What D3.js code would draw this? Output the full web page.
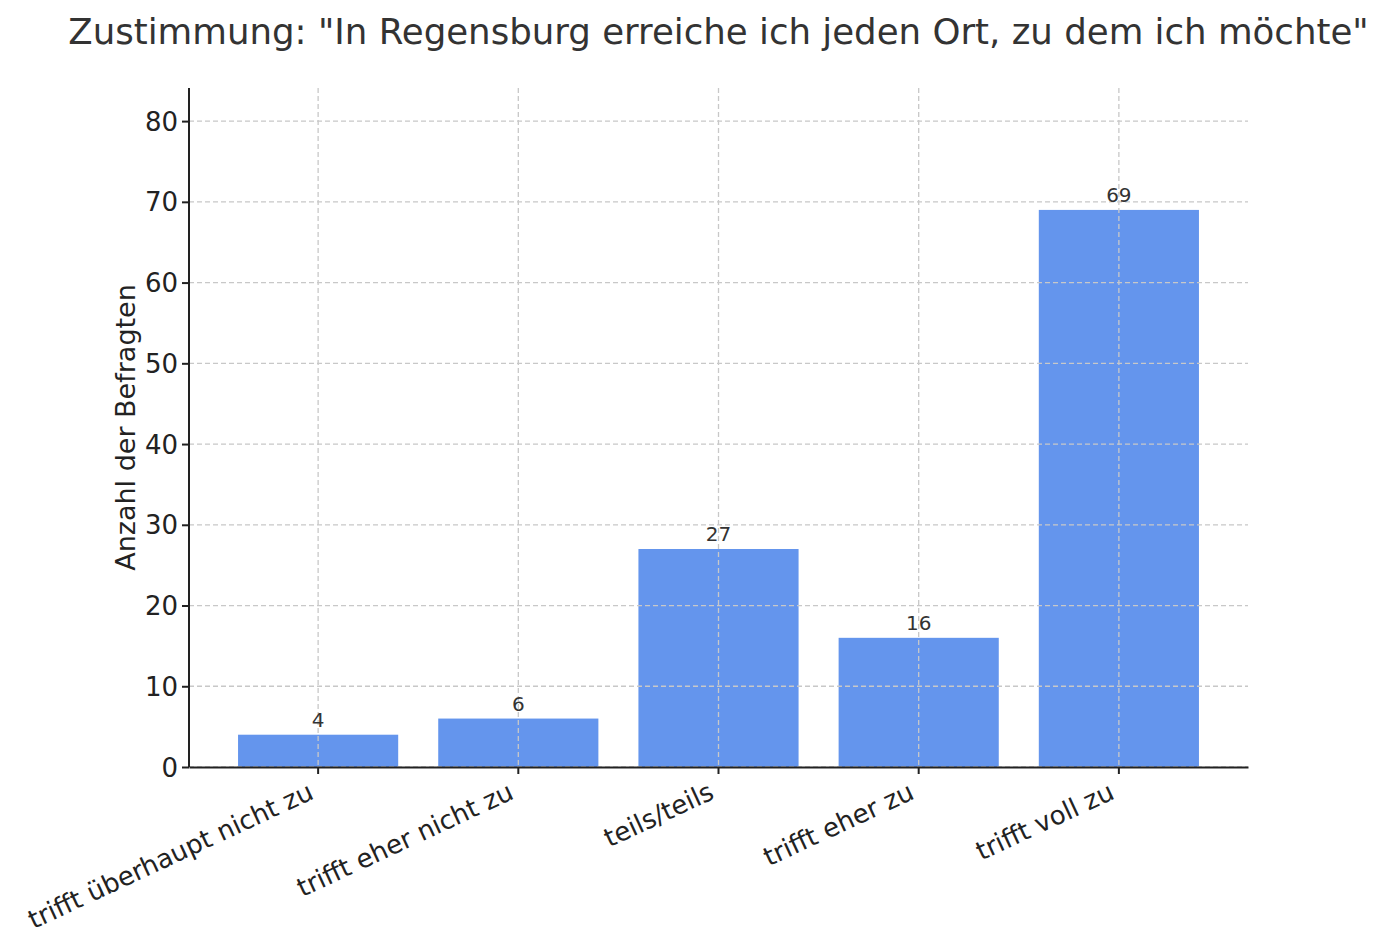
<!DOCTYPE html>
<html>
<head>
<meta charset="utf-8">
<script src="https://cdn.jsdelivr.net/npm/d3@7.9.0/dist/d3.min.js"></script>
<style>
  body { margin: 0; background: #fff; }
  svg { display: block; font-family: "DejaVu Sans", sans-serif; }
</style>
</head>
<body>
<svg id="chart" width="1387" height="950"></svg>
<script>
// ---------- DATA ----------
const categories = [
  "trifft überhaupt nicht zu",
  "trifft eher nicht zu",
  "teils/teils",
  "trifft eher zu",
  "trifft voll zu"
];
const counts = [4, 6, 27, 16, 69];
const yTicks = [0, 10, 20, 30, 40, 50, 60, 70, 80];
const title = "Zustimmung: \"In Regensburg erreiche ich jeden Ort, zu dem ich möchte\"";
const yLabel = "Anzahl der Befragten";

const data = categories.map((c, i) => ({ cat: c, value: counts[i] }));

// ---------- LAYOUT ----------
const plot = { left: 189, right: 1248, top: 88, bottom: 767 };
const svg = d3.select("#chart");

const x = d3.scaleBand()
  .domain(categories)
  .range([plot.left, plot.right])
  .paddingInner(0.2)
  .paddingOuter(0.245);

const y = d3.scaleLinear()
  .domain([0, 84.1])
  .range([plot.bottom, plot.top]);

// title
svg.append("text")
  .attr("x", (plot.left + plot.right) / 2)
  .attr("y", 44)
  .attr("text-anchor", "middle")
  .attr("font-size", 35.6)
  .attr("fill", "#333")
  .text(title);

// bars
svg.append("g")
  .selectAll("rect")
  .data(data)
  .join("rect")
  .attr("x", d => x(d.cat))
  .attr("y", d => y(d.value))
  .attr("width", x.bandwidth())
  .attr("height", d => y(0) - y(d.value))
  .attr("fill", "#6495ED");

// grid (drawn above bars, like the reference)
const grid = svg.append("g")
  .attr("stroke", "#c8c8c8")
  .attr("stroke-width", 1.3)
  .attr("stroke-dasharray", "5,3");

grid.selectAll("line.h")
  .data(yTicks)
  .join("line")
  .attr("class", "h")
  .attr("x1", plot.left)
  .attr("x2", plot.right)
  .attr("y1", d => y(d))
  .attr("y2", d => y(d));

grid.selectAll("line.v")
  .data(categories)
  .join("line")
  .attr("class", "v")
  .attr("x1", d => x(d) + x.bandwidth() / 2)
  .attr("x2", d => x(d) + x.bandwidth() / 2)
  .attr("y1", plot.top)
  .attr("y2", plot.bottom);

// value labels
svg.append("g")
  .selectAll("text")
  .data(data)
  .join("text")
  .attr("x", d => x(d.cat) + x.bandwidth() / 2)
  .attr("y", d => y(d.value) - 8)
  .attr("text-anchor", "middle")
  .attr("font-size", 20)
  .attr("fill", "#333")
  .text(d => d.value);

// ---------- AXES ----------
const yAxis = svg.append("g")
  .attr("transform", `translate(${plot.left},0)`)
  .call(d3.axisLeft(y).tickValues(yTicks).tickSize(7).tickPadding(4).tickSizeOuter(0));

const xAxis = svg.append("g")
  .attr("transform", `translate(0,${plot.bottom})`)
  .call(d3.axisBottom(x).tickSize(7).tickSizeOuter(0));

[yAxis, xAxis].forEach(g => {
  g.select(".domain").attr("stroke", "#222").attr("stroke-width", 2);
  g.selectAll(".tick line").attr("stroke", "#222").attr("stroke-width", 2);
  g.selectAll(".tick text")
    .attr("fill", "#222")
    .attr("font-size", 26)
    .attr("font-family", "DejaVu Sans, sans-serif");
});

yAxis.select(".domain").attr("d", `M0,${plot.bottom}V${plot.top}`);
yAxis.selectAll(".tick text").attr("dy", "0.35em");

xAxis.selectAll(".tick text")
  .attr("text-anchor", "end")
  .attr("dy", null)
  .attr("y", null)
  .attr("transform", "translate(-3,31) rotate(-25)");

// y axis label
svg.append("text")
  .attr("transform", `translate(135,${(plot.top + plot.bottom) / 2}) rotate(-90)`)
  .attr("text-anchor", "middle")
  .attr("font-size", 27)
  .attr("fill", "#222")
  .text(yLabel);
</script>
</body>
</html>
